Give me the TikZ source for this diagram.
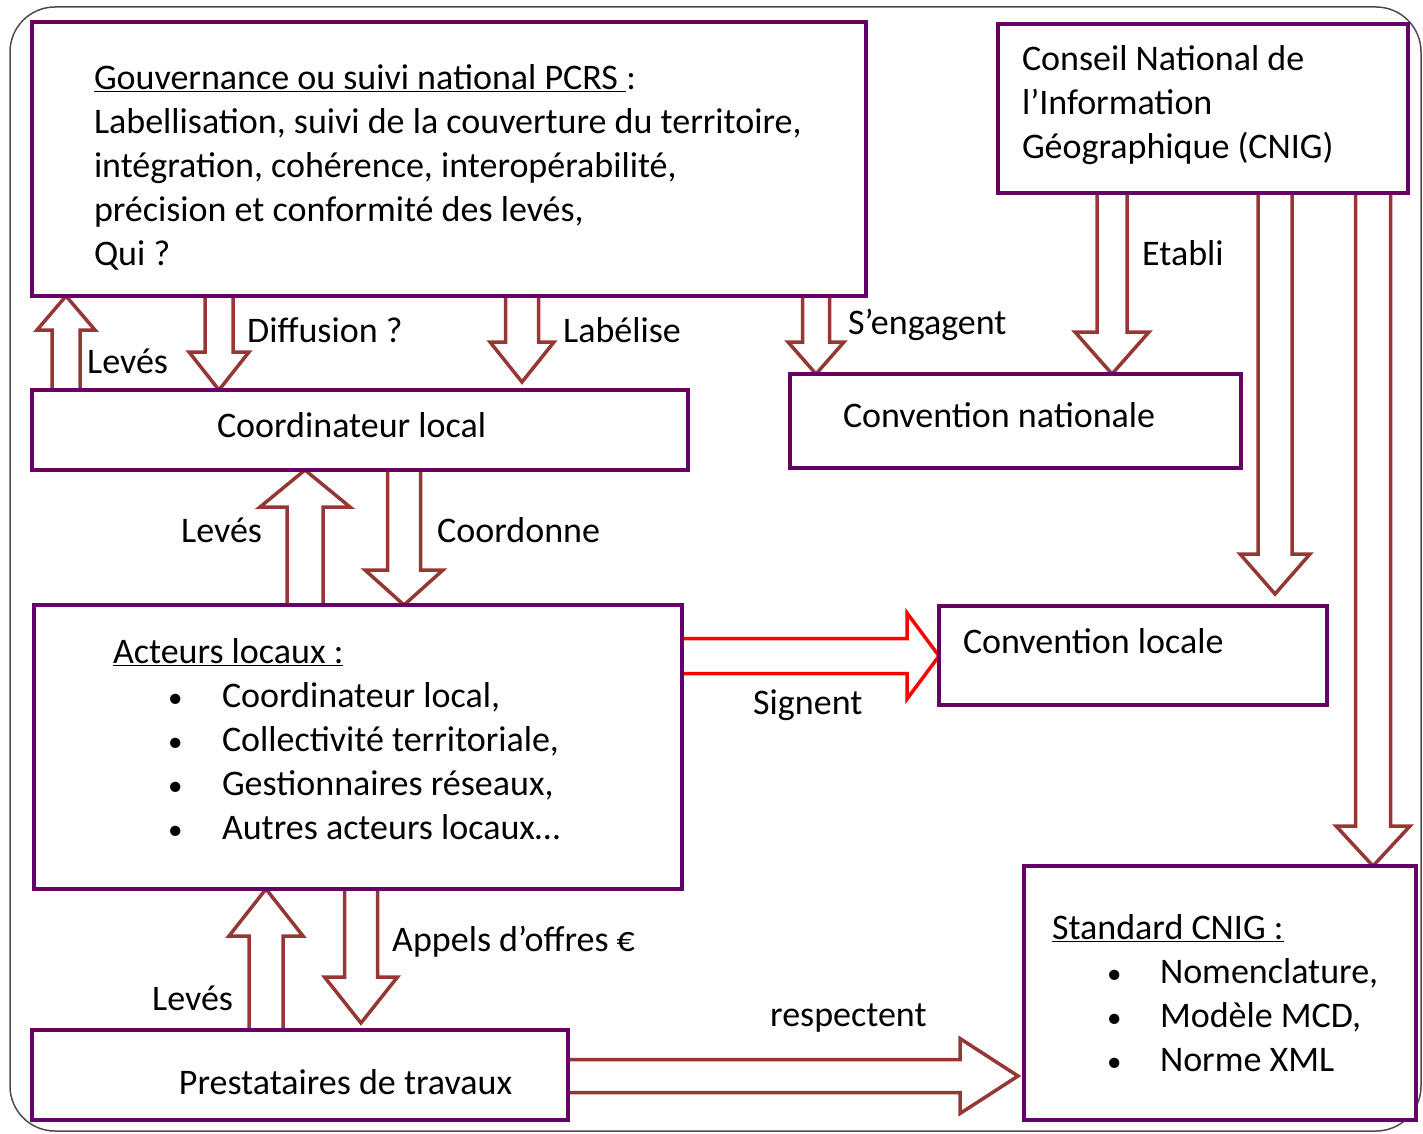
\documentclass[tikz,border=0pt]{standalone}
\usepackage{fontspec}
\setmainfont{Carlito}
\usetikzlibrary{calc,backgrounds}

\definecolor{boxpurple}{RGB}{102,0,102}
\definecolor{arrowbrown}{RGB}{149,55,53}

% hollow block arrow: [style]{from}{to}{shaft half width}{head half width}{head length}
\newcommand{\fatarrow}[6][fat]{%
  \filldraw[#1] let \p1=(#2), \p2=(#3),
      \n1={ifthenelse(\x2-\x1>1,1,ifthenelse(\x2-\x1<-1,-1,0))},
      \n2={ifthenelse(\y2-\y1>1,1,ifthenelse(\y2-\y1<-1,-1,0))} in
    ({\x1-\n2*#4},{\y1+\n1*#4})
    -- ({\x2-\n1*#6-\n2*#4},{\y2-\n2*#6+\n1*#4})
    -- ({\x2-\n1*#6-\n2*#5},{\y2-\n2*#6+\n1*#5})
    -- (\x2,\y2)
    -- ({\x2-\n1*#6+\n2*#5},{\y2-\n2*#6-\n1*#5})
    -- ({\x2-\n1*#6+\n2*#4},{\y2-\n2*#6-\n1*#4})
    -- ({\x1+\n2*#4},{\y1-\n1*#4});}
% invisible struts to nudge text up (depth) or down (height)
\newcommand{\dn}[1]{\rule[-#1]{0pt}{0pt}}
\newcommand{\up}[1]{\rule{0pt}{#1}}
\newcommand{\bul}[1]{\hspace*{55pt}\makebox[#1][l]{\fontsize{29}{44}\selectfont •}}

\begin{document}
\begin{tikzpicture}[x=1pt, y=-1pt,
  box/.style={draw=boxpurple, line width=4pt, fill=white, outer sep=0pt,
    anchor=north west, align=flush left, font=\fontsize{36}{44}\selectfont},
  fat/.style={draw=arrowbrown, line width=3.5pt, fill=white, line join=miter},
  redfat/.style={fat, draw=red},
  lbl/.style={anchor=west, inner sep=0pt, font=\fontsize{36}{44}\selectfont}]

\useasboundingbox (0,0) rectangle (1423,1134);
\draw[rounded corners=45pt, draw=black!70, line width=1.5pt] (10,7) rectangle (1421,1131);

% boxes
\node[box, minimum width=834pt, minimum height=274pt, text width=772pt, inner xsep=31pt] (gov) at (32,22)
  {\hspace*{31pt}\up{42pt}\underline{Gouvernance ou suivi national PCRS }:\\
   \hspace*{31pt}Labellisation, suivi de la couverture du territoire,\\
   \hspace*{31pt}intégration, cohérence, interopérabilité,\\
   \hspace*{31pt}précision et conformité des levés,\\
   \hspace*{31pt}Qui ?};
\node[box, minimum width=410pt, minimum height=169pt, text width=362pt, inner xsep=24pt] (cnig) at (998,24)
  {\up{30pt}Conseil National de\\l’Information\\Géographique (CNIG)\dn{17pt}};
\node[box, minimum width=656pt, minimum height=80pt, text width=286pt, inner xsep=185pt] (coord) at (32,390)
  {Coordinateur local\dn{10pt}};
\node[box, minimum width=451pt, minimum height=94pt, text width=345pt, inner xsep=53pt] (convnat) at (790,374)
  {Convention nationale\dn{12pt}};
\node[box, minimum width=648pt, minimum height=284pt, text width=490pt, inner xsep=79pt] (acteurs) at (34,605)
  {\underline{Acteurs locaux :}\\
   \bul{54pt}Coordinateur local,\\
   \bul{54pt}Collectivité territoriale,\\
   \bul{54pt}Gestionnaires réseaux,\\
   \bul{54pt}Autres acteurs locaux…\dn{16pt}};
\node[box, minimum width=388pt, minimum height=99pt, text width=340pt, inner xsep=24pt] (convloc) at (939,606)
  {Convention locale\dn{30pt}};
\node[box, minimum width=392pt, minimum height=254pt, text width=336pt, inner xsep=28pt] (std) at (1024,866)
  {\underline{Standard CNIG :}\\
   \bul{53pt}Nomenclature,\\
   \bul{53pt}Modèle MCD,\\
   \bul{53pt}Norme XML};
\node[box, minimum width=536pt, minimum height=90pt, text width=424pt, inner xsep=56pt, align=flush right] (prest) at (32,1030)
  {\up{39pt}Prestataires de travaux};

% free arrow ends
\coordinate (labtip) at (522,382);
\coordinate (loctip) at (1275,594);
\coordinate (apptip) at (361,1023);
\coordinate (restip) at (1018,1076);

% arrows
\begin{scope}[on background layer]
\fatarrow{66,0 |- coord.north}{66,0 |- gov.south}{14pt}{29pt}{34pt}
\fatarrow{219,0 |- gov.south}{219,0 |- coord.north}{14pt}{30pt}{38pt}
\fatarrow{labtip |- gov.south}{labtip}{16.5pt}{32pt}{40pt}
\fatarrow{816,0 |- gov.south}{816,0 |- convnat.north}{13.5pt}{28pt}{32pt}
\fatarrow{1112,0 |- cnig.south}{1112,0 |- convnat.north}{15pt}{37pt}{42pt}
\fatarrow{loctip |- cnig.south}{loctip}{17pt}{35pt}{40pt}
\fatarrow{1373,0 |- cnig.south}{1373,0 |- std.north}{17.5pt}{37pt}{40pt}
\fatarrow{305,0 |- acteurs.north}{305,0 |- coord.south}{18pt}{45pt}{37pt}
\fatarrow{404,0 |- coord.south}{404,0 |- acteurs.north}{16.5pt}{39pt}{35pt}
\fatarrow[redfat]{acteurs.east |- 0,656}{convloc.west |- 0,656}{17.5pt}{43pt}{32pt}
\fatarrow{266,0 |- prest.north}{266,0 |- acteurs.south}{17pt}{37pt}{47pt}
\fatarrow{apptip |- acteurs.south}{apptip}{16.5pt}{36.5pt}{46pt}
\fatarrow{prest.east |- restip}{restip}{16.5pt}{37.5pt}{58pt}
\end{scope}

% arrow labels
\foreach \nm/\px/\py/\txt in {
    levesA/87/361/Levés, diffusion/247/330/Diffusion ?, labelise/563/330/Labélise,
    engagent/848/325/S’engagent, etabli/1142/253/Etabli,
    levesB/181/530/Levés, coordonne/437/530/Coordonne, signent/753/705/Signent,
    levesC/152/998/Levés, appels/392/942/Appels d’offres €, respectent/770/1018/respectent}
  \node[lbl] (\nm) at (\px,\py) {\txt};
\end{tikzpicture}
\end{document}
